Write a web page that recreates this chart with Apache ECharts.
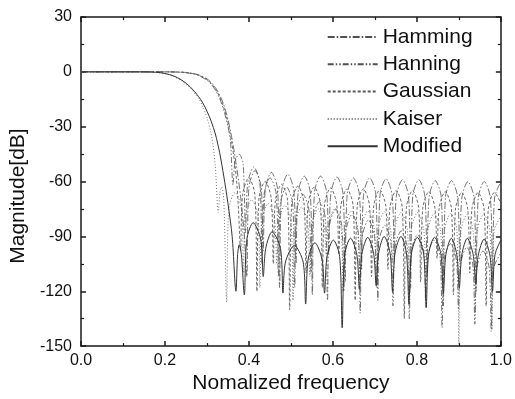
<!DOCTYPE html>
<html>
<head>
<meta charset="utf-8">
<script src="https://cdn.jsdelivr.net/npm/echarts@6/dist/echarts.min.js"></script>
<style>
html,body{margin:0;padding:0;background:#fff;}
#c{width:515px;height:399px;}
</style>
</head>
<body>
<div id="c"></div>
<script>
const seriesNames = ['Hamming', 'Hanning', 'Gaussian', 'Kaiser', 'Modified'];

const hamming = [[0,0],[0.1,0],[0.2,0],[0.24,-0.2],[0.26,-0.6],[0.28,-1.6],[0.30,-3.8],[0.31,-5.8],[0.32,-8.6],[0.33,-12.5],[0.34,-18],[0.35,-26],[0.36,-37],[0.37,-51],[0.38,-68],[0.39,-92],
[0.395,-112],[0.400,-63],[0.4145,-54],[0.429,-63],
[0.434,-98],[0.439,-64],[0.4535,-55],[0.468,-64],
[0.473,-118],[0.478,-65],[0.4925,-56],[0.507,-65],
[0.512,-105],[0.517,-66],[0.5315,-57],[0.546,-66],
[0.551,-122],[0.556,-66],[0.5705,-57],[0.585,-66],
[0.590,-100],[0.595,-66.5],[0.6095,-57.5],[0.624,-66.5],
[0.629,-115],[0.634,-67],[0.6485,-58],[0.663,-67],
[0.668,-108],[0.673,-67],[0.6875,-58],[0.702,-67],
[0.707,-125],[0.712,-67.5],[0.7265,-58.5],[0.741,-67.5],
[0.746,-102],[0.751,-68],[0.7655,-59],[0.780,-68],
[0.785,-118],[0.790,-68],[0.8045,-59],[0.819,-68],
[0.824,-110],[0.829,-68.5],[0.8435,-59.5],[0.858,-68.5],
[0.863,-128],[0.868,-68.5],[0.8825,-59.5],[0.897,-68.5],
[0.902,-104],[0.907,-69],[0.9215,-60],[0.936,-69],
[0.941,-120],[0.946,-69],[0.9605,-60],[0.975,-69],
[0.980,-112],[0.985,-69],[1.0,-60]];

const hanning = [[0,0],[0.1,0],[0.2,0],[0.24,-0.25],[0.26,-0.8],[0.28,-2],[0.30,-4.6],[0.31,-6.8],[0.32,-10],[0.33,-14.5],[0.34,-21],[0.35,-30],[0.356,-38],[0.362,-62],[0.367,-49],[0.3765,-45],[0.386,-50],
[0.392,-88],[0.397,-61],[0.4115,-52],[0.426,-61],
[0.431,-105],[0.436,-67],[0.4505,-58],[0.465,-67],
[0.470,-112],[0.475,-72],[0.4895,-63],[0.504,-72],
[0.509,-118],[0.514,-76],[0.5285,-67],[0.543,-76],
[0.548,-110],[0.553,-80],[0.5675,-71],[0.582,-80],
[0.587,-125],[0.592,-84],[0.6065,-75],[0.621,-84],
[0.626,-120],[0.631,-87],[0.6455,-78],[0.660,-87],
[0.665,-132],[0.670,-90],[0.6845,-81],[0.699,-90],
[0.704,-118],[0.709,-93],[0.7235,-84],[0.738,-93],
[0.743,-128],[0.748,-96],[0.7625,-87],[0.777,-96],
[0.782,-135],[0.787,-98],[0.8015,-89],[0.816,-98],
[0.821,-125],[0.826,-101],[0.8405,-92],[0.855,-101],
[0.860,-140],[0.865,-103],[0.8795,-94],[0.894,-103],
[0.899,-130],[0.904,-105],[0.9185,-96],[0.933,-105],
[0.938,-138],[0.943,-107],[0.9575,-98],[0.972,-107],
[0.977,-142],[0.982,-108],[1.0,-99]];

const gaussian = [[0,0],[0.1,0],[0.2,0],[0.24,-0.2],[0.26,-0.7],[0.28,-1.8],[0.30,-4.2],[0.31,-6.3],[0.32,-9.3],[0.33,-13.5],[0.34,-19.5],[0.35,-28],[0.36,-40],[0.37,-58],[0.375,-75],
[0.380,-98],[0.385,-67],[0.3995,-58],[0.414,-67],
[0.419,-120],[0.424,-69],[0.4385,-60],[0.453,-69],
[0.458,-105],[0.463,-70.5],[0.4775,-61.5],[0.492,-70.5],
[0.497,-130],[0.502,-71.5],[0.5165,-62.5],[0.531,-71.5],
[0.536,-110],[0.541,-72],[0.5555,-63],[0.570,-72],
[0.575,-118],[0.580,-72.5],[0.5945,-63.5],[0.609,-72.5],
[0.614,-100],[0.619,-73],[0.6335,-64],[0.648,-73],
[0.653,-125],[0.658,-73],[0.6725,-64],[0.687,-73],
[0.692,-112],[0.697,-73.5],[0.7115,-64.5],[0.726,-73.5],
[0.731,-108],[0.736,-74],[0.7505,-65],[0.765,-74],
[0.770,-135],[0.775,-74],[0.7895,-65],[0.804,-74],
[0.809,-115],[0.814,-74.5],[0.8285,-65.5],[0.843,-74.5],
[0.848,-102],[0.853,-74.5],[0.8675,-65.5],[0.882,-74.5],
[0.887,-122],[0.892,-75],[0.9065,-66],[0.921,-75],
[0.926,-110],[0.931,-75],[0.9455,-66],[0.960,-75],
[0.965,-128],[0.970,-75],[0.9845,-66],[1.0,-72]];

const kaiser = [[0,0],[0.1,0],[0.16,-0.05],[0.18,-0.3],[0.20,-1],[0.22,-2.5],[0.24,-5],[0.26,-9],[0.28,-14.5],[0.29,-19],[0.30,-25],[0.31,-34],[0.315,-41],[0.32,-52],[0.327,-77],[0.331,-66],[0.335,-63],[0.340,-70],
[0.347,-126],[0.352,-75],[0.367,-66],[0.382,-75],
[0.387,-110],[0.392,-79],[0.4065,-70],[0.4215,-79],
[0.426,-118],[0.431,-81],[0.446,-72],[0.461,-81],
[0.466,-105],[0.471,-82],[0.4855,-73],[0.500,-82],
[0.505,-125],[0.510,-83],[0.525,-74],[0.540,-83],
[0.545,-112],[0.550,-84],[0.5645,-75],[0.579,-84],
[0.584,-100],[0.589,-84],[0.604,-75],[0.619,-84],
[0.624,-120],[0.629,-85],[0.6435,-76],[0.658,-85],
[0.663,-108],[0.668,-85],[0.683,-76],[0.698,-85],
[0.703,-115],[0.708,-85.5],[0.7225,-76.5],[0.737,-85.5],
[0.742,-104],[0.747,-86],[0.762,-77],[0.777,-86],
[0.782,-122],[0.787,-86],[0.8015,-77],[0.816,-86],
[0.821,-110],[0.826,-86.5],[0.841,-77.5],[0.856,-86.5],
[0.861,-118],[0.866,-86.5],[0.8805,-77.5],[0.895,-86.5],
[0.900,-149],[0.905,-87],[0.9195,-78],[0.934,-87],
[0.939,-132],[0.944,-87],[0.959,-78],[0.974,-87],
[0.979,-141],[0.984,-87],[1.0,-79]];

const modified = [[0,0],[0.1,0],[0.16,-0.05],[0.18,-0.25],[0.20,-0.9],[0.22,-2.2],[0.24,-4.5],[0.26,-8.2],[0.28,-13.5],[0.29,-17],[0.30,-21.5],[0.31,-27],[0.32,-34],[0.33,-44],[0.34,-57],[0.35,-72],[0.36,-90],[0.369,-120],[0.373,-100],[0.377,-94.5],[0.382,-100],
[0.389,-122],[0.395,-91.5],[0.410,-82.5],[0.428,-91.5],
[0.434,-112],[0.440,-96.5],[0.455,-87.5],[0.475,-96.5],
[0.481,-121],[0.487,-104],[0.508,-95],[0.529,-104],
[0.535,-127],[0.541,-102.5],[0.557,-93.5],[0.574,-102.5],
[0.580,-121],[0.586,-101],[0.601,-92],[0.616,-101],
[0.622,-140],[0.628,-100],[0.642,-91],[0.657,-100],
[0.663,-119],[0.669,-99.5],[0.683,-90.5],[0.697,-99.5],
[0.703,-117],[0.709,-99],[0.722,-90],[0.736,-99],
[0.742,-120],[0.748,-99],[0.762,-90],[0.775,-99],
[0.781,-127],[0.787,-99.5],[0.801,-90.5],[0.816,-99.5],
[0.822,-129],[0.828,-99.5],[0.842,-90.5],[0.857,-99.5],
[0.863,-121],[0.869,-100],[0.882,-91],[0.895,-100],
[0.901,-118],[0.907,-100],[0.920,-91],[0.934,-100],
[0.940,-116],[0.946,-100.5],[0.960,-91.5],[0.974,-100.5],
[0.980,-120],[0.986,-100],[1.0,-92]];

const seriesData = [hamming, hanning, gaussian, kaiser, modified];
const dashTypes = [[7,2,1.5,2], [6,2,1.5,2,1.5,2], [3,2], [1,2], 'solid'];
const lineColors = ['#505050', '#505050', '#5a5a5a', '#666666', '#333333'];
const lineWidths = [0.8, 0.8, 0.9, 0.9, 1];

const FONT = 'Liberation Sans, Arial, Helvetica, sans-serif';
const chart = echarts.init(document.getElementById('c'), null, {renderer: 'canvas'});

const tickCommon = {
  axisLine: {show: true, onZero: false, lineStyle: {color: '#1a1a1a', width: 1.5}},
  axisTick: {show: true, inside: true, length: 5, lineStyle: {color: '#1a1a1a', width: 1.5}},
  minorTick: {show: true, splitNumber: 2, length: 3, lineStyle: {color: '#1a1a1a', width: 1.2}},
  splitLine: {show: false}
};

chart.setOption({
  animation: false,
  backgroundColor: '#fff',
  textStyle: {fontFamily: FONT},
  grid: {left: 80, right: 12.5, top: 17, bottom: 48, containLabel: false},
  legend: {
    orient: 'vertical',
    left: 321.7,
    top: 20,
    itemWidth: 50,
    itemHeight: 12,
    itemGap: 3.3,
    data: seriesNames,
    itemStyle: {opacity: 0},
    textStyle: {fontFamily: FONT, fontSize: 21, color: '#111', lineHeight: 24},
    selectedMode: false
  },
  xAxis: [
    Object.assign({
      type: 'value', min: 0, max: 1, interval: 0.2, position: 'bottom',
      name: 'Nomalized frequency', nameLocation: 'middle', nameGap: 19,
      nameTextStyle: {fontFamily: FONT, fontSize: 21, color: '#111'},
      axisLabel: {fontFamily: FONT, fontSize: 16, color: '#111', margin: 6,
        formatter: v => v.toFixed(1)}
    }, tickCommon),
    Object.assign({
      type: 'value', min: 0, max: 1, interval: 0.2, position: 'top',
      axisLabel: {show: false}
    }, tickCommon)
  ],
  yAxis: [
    Object.assign({
      type: 'value', min: -150, max: 30, interval: 30, position: 'left',
      name: 'Magnitude[dB]', nameLocation: 'middle', nameGap: 52,
      nameTextStyle: {fontFamily: FONT, fontSize: 21, color: '#111', padding: [0, 29, 0, 0]},
      axisLabel: {fontFamily: FONT, fontSize: 16, color: '#111', margin: 9}
    }, tickCommon),
    Object.assign({
      type: 'value', min: -150, max: 30, interval: 30, position: 'right',
      axisLabel: {show: false}
    }, tickCommon)
  ],
  series: seriesNames.map((n, i) => ({
    name: n,
    type: 'line',
    xAxisIndex: 0,
    yAxisIndex: 0,
    data: seriesData[i],
    showSymbol: false,
    symbol: 'none',
    smooth: 0.3,
    lineStyle: {color: lineColors[i], width: lineWidths[i], type: dashTypes[i]},
    itemStyle: {color: lineColors[i]},
    z: 2 + i
  }))
});
</script>
</body>
</html>
